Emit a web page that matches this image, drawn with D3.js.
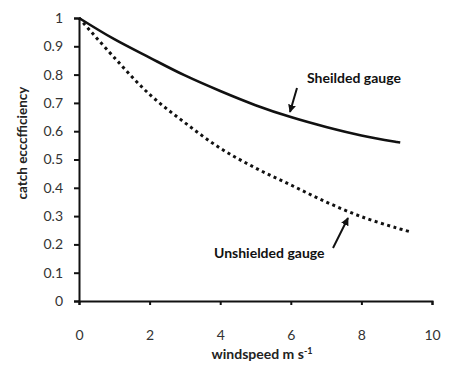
<!DOCTYPE html>
<html>
<head>
<meta charset="utf-8">
<script src="https://cdn.jsdelivr.net/npm/d3@7"></script>
<style>
  body { margin: 0; background: #fff; }
  text { font-family: Lato, "Open Sans", sans-serif; }
</style>
</head>
<body>
<div id="chart"></div>
<script>
// windspeed (m/s) and catch efficiency
const vitesseAbri = [0, 1, 2, 3, 4, 5, 6, 7, 8, 9, 9.1];
const effAbri     = [1.0, 0.925, 0.86, 0.797, 0.742, 0.692, 0.65, 0.615, 0.585, 0.562, 0.56];
const vitesseNu   = [0, 1, 2, 3, 4, 5, 6, 7, 8, 9, 9.4];
const effNu       = [1.0, 0.86, 0.73, 0.63, 0.54, 0.47, 0.41, 0.35, 0.298, 0.258, 0.244];
const ticksX = [0, 2, 4, 6, 8, 10];
const ticksY = [0, 0.1, 0.2, 0.3, 0.4, 0.5, 0.6, 0.7, 0.8, 0.9, 1];

const W = 452, H = 365;
const svg = d3.select("#chart").append("svg")
    .attr("width", W).attr("height", H);

const x = d3.scaleLinear().domain([0, 10]).range([79, 432]);
const y = d3.scaleLinear().domain([0, 1]).range([301, 18]);

// axes
const axeX = svg.append("g").attr("transform", "translate(0," + y(0) + ")")
    .call(d3.axisBottom(x).tickValues(ticksX).tickSize(4).tickPadding(25).tickFormat(d3.format("d")));
const axeY = svg.append("g").attr("transform", "translate(" + x(0) + ",0)")
    .call(d3.axisLeft(y).tickValues(ticksY).tickSize(5).tickPadding(11).tickFormat(d => d === 0 || d === 1 ? d : d3.format(".1f")(d)));

[axeX, axeY].forEach(a => {
    a.select(".domain").attr("stroke", "#111").attr("stroke-width", 2);
    a.selectAll(".tick line").attr("stroke", "#111").attr("stroke-width", 2);
    a.selectAll(".tick text").attr("fill", "#333").style("font-size", "14px");
});

// curves
const ligne = d3.line().x(d => x(d[0])).y(d => y(d[1])).curve(d3.curveCatmullRom);

svg.append("path")
    .datum(d3.zip(vitesseAbri, effAbri))
    .attr("d", ligne).attr("fill", "none")
    .attr("stroke", "#111").attr("stroke-width", 2.6);

svg.append("path")
    .datum(d3.zip(vitesseNu, effNu))
    .attr("d", ligne).attr("fill", "none")
    .attr("stroke", "#111").attr("stroke-width", 3)
    .attr("stroke-dasharray", "3,3.5");

// arrows
svg.append("defs").append("marker")
    .attr("id", "fleche").attr("viewBox", "0 0 10 10")
    .attr("refX", 9).attr("refY", 5)
    .attr("markerWidth", 4).attr("markerHeight", 4)
    .attr("orient", "auto")
    .append("path").attr("d", "M0,0 L10,5 L0,10 z").attr("fill", "#111");

function fleche(x1, y1, x2, y2) {
    svg.append("line")
        .attr("x1", x1).attr("y1", y1).attr("x2", x2).attr("y2", y2)
        .attr("stroke", "#111").attr("stroke-width", 2)
        .attr("marker-end", "url(#fleche)");
}
fleche(297, 88, 290, 112);
fleche(333, 248, 348, 218);

// annotations
svg.append("text").attr("x", 307).attr("y", 83)
    .style("font-size", "14px").style("font-weight", "bold").attr("fill", "#111")
    .text("Sheilded gauge");
svg.append("text").attr("x", 214).attr("y", 258)
    .style("font-size", "14px").style("font-weight", "bold").attr("fill", "#111")
    .text("Unshielded gauge");

// axis titles
svg.append("text")
    .attr("transform", "translate(27,143) rotate(-90)")
    .attr("text-anchor", "middle")
    .style("font-size", "13.5px").style("font-weight", "bold").attr("fill", "#222")
    .text("catch ecccfficiency");

const titreX = svg.append("text")
    .attr("x", 262).attr("y", 359)
    .attr("text-anchor", "middle")
    .style("font-size", "14px").style("font-weight", "bold").attr("fill", "#222");
titreX.append("tspan").text("windspeed m s");
titreX.append("tspan").attr("dy", -5).style("font-size", "9px").text("-1");
</script>
</body>
</html>
